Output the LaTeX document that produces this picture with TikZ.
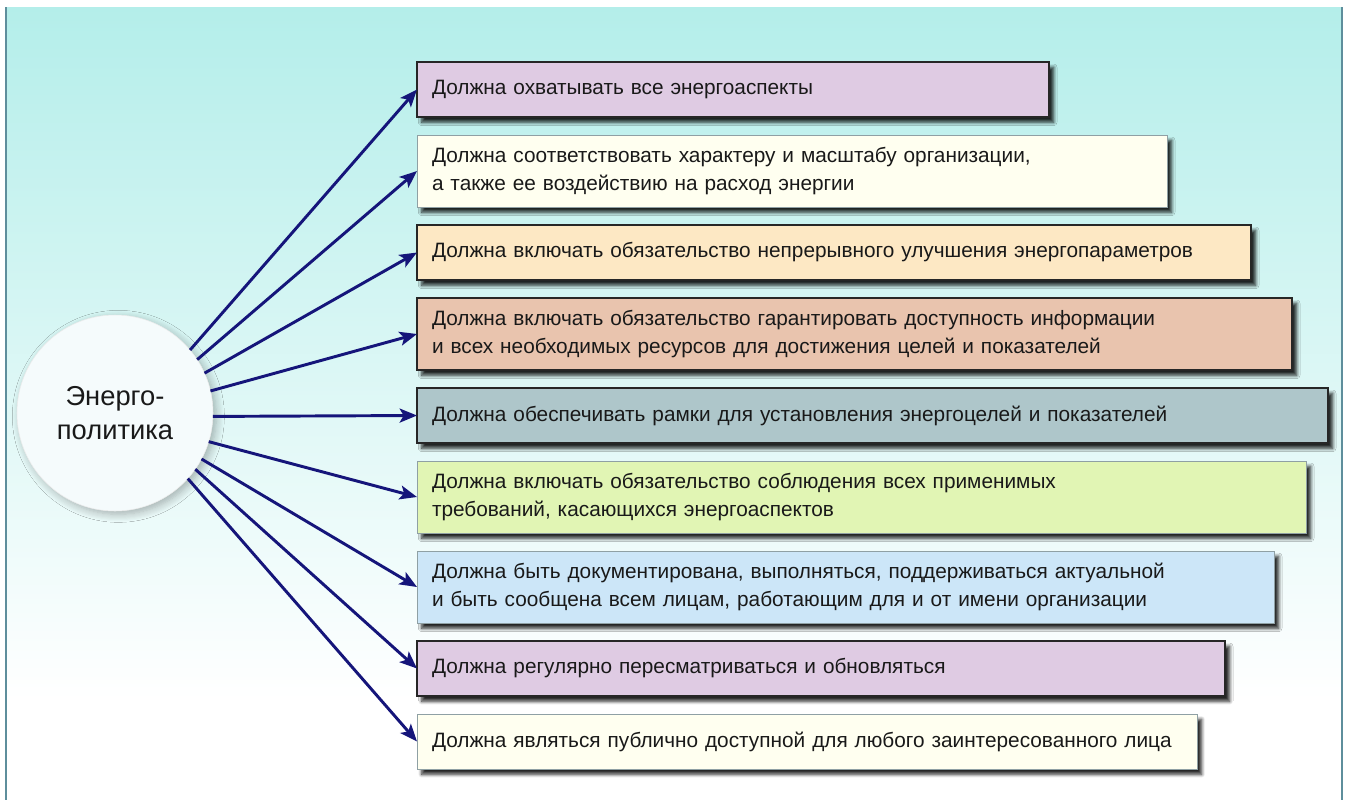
\documentclass[tikz,border=0pt]{standalone}
\usepackage{fontspec}
\setmainfont{Liberation Sans}
\usetikzlibrary{arrows.meta,positioning,shadows.blur}
\definecolor{bgTop}{HTML}{B4EEEA}
\definecolor{bgMid}{HTML}{C6F3F1}
\definecolor{frameEdge}{HTML}{5E8E9C}
\definecolor{arrowNavy}{HTML}{15157A}
\definecolor{fillLilac}{HTML}{DFCBE3}
\definecolor{fillIvory}{HTML}{FFFFF0}
\definecolor{fillSand}{HTML}{FDE8C4}
\definecolor{fillPeach}{HTML}{E9C4AE}
\definecolor{fillSlate}{HTML}{AEC6CA}
\definecolor{fillLime}{HTML}{E1F5B4}
\definecolor{fillSky}{HTML}{CCE6F8}
\definecolor{softEdge}{HTML}{8FA0A4}
\definecolor{policyFill}{HTML}{F5FBFC}
\tikzset{
  reqbox/.style={draw=black!85, line width=1.5pt, rectangle, align=left,
    inner xsep=11.25pt, outer sep=0pt, minimum height=41.25pt, text=black!90,
    font=\fontsize{15.6}{21}\selectfont,
    blur shadow={shadow xshift=3.5pt, shadow yshift=-4pt, shadow blur steps=6,
      shadow blur radius=2.5pt, shadow opacity=85}},
  softbox/.style={reqbox, draw=softEdge, line width=0.75pt},
  tallbox/.style={minimum height=54pt},
  policy/.style={circle, draw=gray!15, line width=0.4pt, fill=policyFill,
    minimum size=147pt, inner sep=0pt, outer sep=0pt, align=center,
    text=black!90, font=\fontsize{20.5}{26}\selectfont,
    blur shadow={shadow xshift=2.5pt, shadow yshift=-2.5pt, shadow blur steps=8,
      shadow blur radius=6pt, shadow opacity=30}},
  spoke/.style={-{Stealth[length=13pt, width=10.5pt, inset=3pt]},
    line width=2.2pt, draw=arrowNavy},
}

\begin{document}
\begin{tikzpicture}[x=0.75pt, y=-0.75pt, node distance=13.5pt]
    \useasboundingbox (0,0) rectangle (1348,800);
    % backdrop
    \shade[top color=bgTop, middle color=bgMid, bottom color=white]
      (6,7) rectangle (1342,700);
    \draw[frameEdge, line width=1.2pt] (6,7) -- (6,800);
    \draw[frameEdge, line width=1.2pt] (1342,7) -- (1342,800);

    \node[policy] (pol) at (115,413) {Энерго-\\политика};

    \node[reqbox, fill=fillLilac, text width=451.5pt, anchor=north west] (r1)
      at (417,62) {Должна охватывать все энергоаспекты};
    \node[softbox, tallbox, fill=fillIvory, text width=540pt,
      below=of r1.south west, anchor=north west] (r2)
      {Должна соответствовать характеру и масштабу организации,\\
       а также ее воздействию на расход энергии};
    \node[reqbox, fill=fillSand, text width=603pt,
      below=of r2.south west, anchor=north west] (r3)
      {Должна включать обязательство непрерывного улучшения энергопараметров};
    \node[reqbox, tallbox, fill=fillPeach, text width=633.75pt,
      below=of r3.south west, anchor=north west] (r4)
      {Должна включать обязательство гарантировать доступность информации\\
       и всех необходимых ресурсов для достижения целей и показателей};
    \node[reqbox, fill=fillSlate, text width=660.75pt,
      below=of r4.south west, anchor=north west] (r5)
      {Должна обеспечивать рамки для установления энергоцелей и показателей};
    \node[softbox, tallbox, fill=fillLime, text width=644.25pt,
      below=of r5.south west, anchor=north west] (r6)
      {Должна включать обязательство соблюдения всех применимых\\
       требований, касающихся энергоаспектов};
    \node[softbox, tallbox, fill=fillSky, text width=620.25pt,
      below=of r6.south west, anchor=north west] (r7)
      {Должна быть документирована, выполняться, поддерживаться актуальной\\
       и быть сообщена всем лицам, работающим для и от имени организации};
    \node[reqbox, fill=fillLilac, text width=583.5pt,
      below=of r7.south west, anchor=north west] (r8)
      {Должна регулярно пересматриваться и обновляться};
    \node[softbox, fill=fillIvory, text width=562.5pt,
      below=of r8.south west, anchor=north west] (r9)
      {Должна являться публично доступной для любого заинтересованного лица};

    % spokes
    \draw[spoke] (pol.40)  -- (r1.west);
    \draw[spoke] (pol.33)  -- (r2.west);
    \draw[spoke] (pol.24)  -- (r3.west);
    \draw[spoke] (pol.13)  -- (r4.west);
    \draw[spoke] (pol.-2)  -- (r5.west);
    \draw[spoke] (pol.-17) -- (r6.west);
    \draw[spoke] (pol.-28) -- (r7.west);
    \draw[spoke] (pol.-35) -- (r8.west);
    \draw[spoke] (pol.-42) -- (r9.west);
\end{tikzpicture}
\end{document}
